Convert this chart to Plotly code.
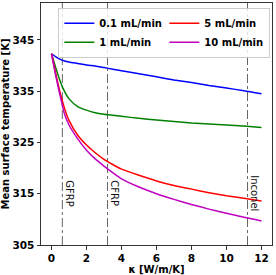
import plotly.graph_objects as go

kappa = [0, 0.25, 0.5, 0.75, 1, 1.5, 2, 2.5, 3, 3.5, 4, 5, 6, 7, 8, 9, 10, 11, 12]
t_01 = [342.3, 341.7, 341.2, 340.9, 340.7, 340.4, 340.1, 339.9, 339.6, 339.3, 339.0, 338.4, 337.8, 337.2, 336.7, 336.1, 335.6, 335.1, 334.5]
t_1 = [342.3, 339.5, 336.9, 334.9, 333.5, 332.0, 331.3, 330.8, 330.5, 330.3, 330.1, 329.7, 329.4, 329.1, 328.8, 328.6, 328.4, 328.2, 327.9]
t_5 = [342.3, 338.3, 334.6, 331.6, 329.3, 326.4, 324.5, 323.0, 321.7, 320.7, 319.8, 318.6, 317.5, 316.6, 315.9, 315.2, 314.6, 314.1, 313.6]
t_10 = [342.3, 337.9, 334.0, 330.5, 328.4, 325.7, 323.5, 321.8, 320.4, 319.1, 317.9, 316.3, 315.0, 313.9, 312.9, 312.0, 311.2, 310.4, 309.7]

series_names = ["0.1 mL/min", "1 mL/min", "5 mL/min", "10 mL/min"]
series_vals = [t_01, t_1, t_5, t_10]
series_colors = ["#0000ff", "#008000", "#ff0000", "#bf00bf"]
legend_ranks = [1, 3, 2, 4]

materials = ["GFRP", "CFRP", "Inconel"]
material_kappa = [0.62, 3.2, 11.2]
label_temp = 315.1

x_ticks = [0, 2, 4, 6, 8, 10, 12]
y_ticks = [305, 315, 325, 335, 345]

fig = go.Figure()
for name, vals, col, rk in zip(series_names, series_vals, series_colors, legend_ranks):
    fig.add_trace(go.Scatter(x=kappa, y=vals, mode="lines", name=f"<b>{name}</b>",
                             line=dict(color=col, width=1.5, shape="spline", smoothing=0.6),
                             legendrank=rk))

for m, k in zip(materials, material_kappa):
    fig.add_shape(type="line", x0=k, x1=k, y0=0, y1=1, xref="x", yref="paper",
                  line=dict(color="#666666", width=1, dash="dashdot"), layer="below")
    fig.add_annotation(x=k, y=label_temp, xref="x", yref="y", text=m, showarrow=False,
                       textangle=90, xanchor="left", yanchor="middle", xshift=0,
                       font=dict(family="DejaVu Sans", size=10, color="#111111"))

axis_common = dict(showline=True, linecolor="#333333", linewidth=1, mirror=True,
                   ticks="outside", ticklen=3.5, tickwidth=1, tickcolor="#333333",
                   showgrid=False, zeroline=False, automargin=False,
                   tickfont=dict(family="DejaVu Sans", size=10.5, color="black"))

fig.update_xaxes(range=[-0.6, 12.6], tickvals=x_ticks,
                 ticktext=[f"<b>{v}</b>" for v in x_ticks],
                 title=dict(text="<b>κ [W/m/K]</b>", standoff=2,
                            font=dict(family="DejaVu Sans", size=10, color="black")),
                 **axis_common)
fig.update_yaxes(range=[305, 352.2], tickvals=y_ticks,
                 ticktext=[f"<b>{v}</b>" for v in y_ticks],
                 title=dict(text="<b>Mean surface temperature [K]</b>", standoff=4,
                            font=dict(family="DejaVu Sans", size=10, color="black")),
                 **axis_common)

fig.update_layout(
    width=276, height=275,
    margin=dict(l=41, r=4, t=3, b=30),
    paper_bgcolor="white", plot_bgcolor="white",
    showlegend=True,
    legend=dict(orientation="h", x=0.075, y=0.98, xanchor="left", yanchor="top",
                entrywidth=60, entrywidthmode="pixels", itemwidth=30,
                bgcolor="rgba(255,255,255,0.8)", bordercolor="#cccccc", borderwidth=1,
                font=dict(family="DejaVu Sans", size=10, color="black"),
                tracegroupgap=0),
)

fig.write_html("out.html", config={"displayModeBar": False},
               post_script="document.body.style.margin='0';document.body.style.overflow='hidden';")
